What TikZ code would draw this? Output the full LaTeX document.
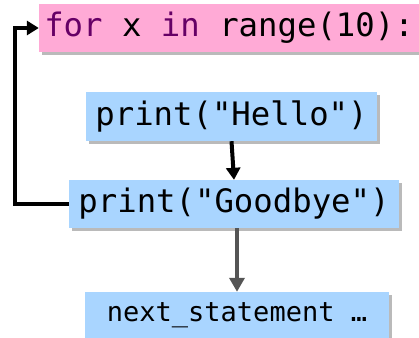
\documentclass[tikz,border=0pt]{standalone}
\usepackage{fontspec}
\setmonofont{DejaVu Sans Mono}
\usetikzlibrary{arrows.meta,shadows}
\definecolor{pinkbox}{HTML}{FFAAD6}
\definecolor{bluebox}{HTML}{A9D5FF}
\definecolor{kw}{HTML}{660066}
\definecolor{grayarrow}{HTML}{555555}
\tikzset{
  codebox/.style={rectangle, inner sep=0pt, font=\ttfamily\fontsize{32.3}{36}\selectfont,
    drop shadow={shadow xshift=2.5pt, shadow yshift=-3pt, opacity=0.45, fill=black!60}},
  bluecode/.style={codebox, fill=bluebox},
  pinkcode/.style={codebox, fill=pinkbox},
  flow/.style={line width=4pt, -{Triangle[length=12pt,width=14pt]}},
  exitflow/.style={line width=4pt, draw=grayarrow, -{Triangle[length=14pt,width=15pt]}},
}
\begin{document}
\begin{tikzpicture}[x=1pt,y=-1pt]
\useasboundingbox (0,0) rectangle (419,337);
\node[pinkcode, minimum width=380pt, minimum height=48pt] (loop) at (229,28)
  {\textcolor{kw}{for} x \textcolor{kw}{in} range(10):};
\node[bluecode, minimum width=291pt, minimum height=49pt] (hello) at (231.5,116.5)
  {print("Hello")};
\node[bluecode, minimum width=330pt, minimum height=48pt] (bye) at (234,204)
  {print("Goodbye")};
\node[bluecode, minimum width=304pt, minimum height=46pt, font=\ttfamily\fontsize{27}{30}\selectfont] (next) at (237,315)
  {next\_statement …};
\coordinate (corner) at (15,204);
\draw[flow] (hello.south) -- (bye.north);
\draw[flow] (bye.west) -- (corner) |- (loop.west);
\draw[exitflow] (next.north |- bye.south) -- (next.north);
\end{tikzpicture}
\end{document}
